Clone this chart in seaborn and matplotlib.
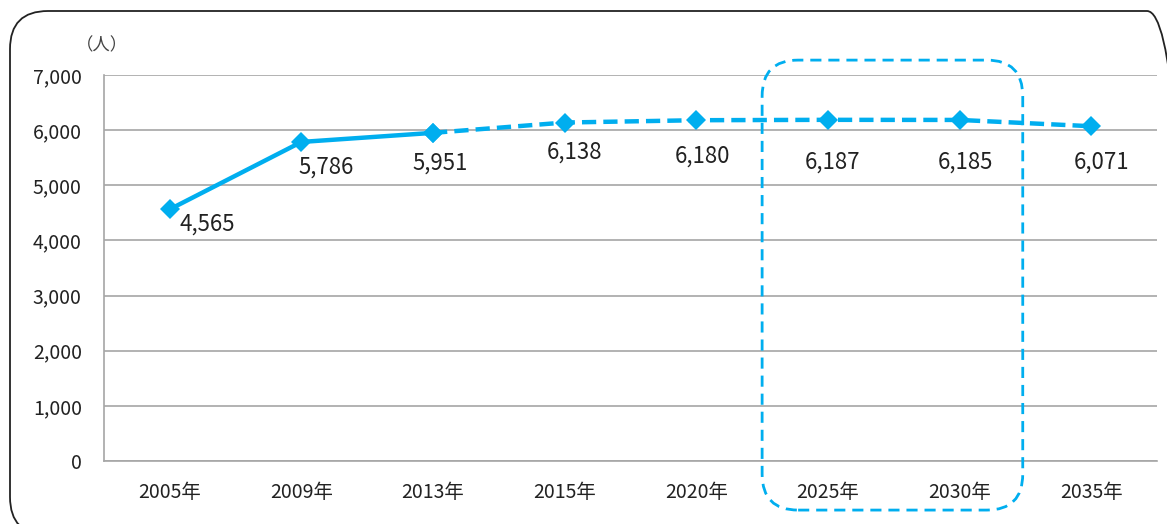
import matplotlib
matplotlib.use("Agg")
import matplotlib.pyplot as plt
import seaborn as sns
import pandas as pd
from matplotlib.patches import FancyBboxPatch
from matplotlib.transforms import IdentityTransform

# ---- data ----
years = ["2005年", "2009年", "2013年", "2015年", "2020年", "2025年", "2030年", "2035年"]
population = [4565, 5786, 5951, 6138, 6180, 6187, 6185, 6071]
actual_count = 3            # first 3 points are actual (solid line), rest projected (dashed)
highlight_years = ["2025年", "2030年"]
y_ticks = [0, 1000, 2000, 3000, 4000, 5000, 6000, 7000]
unit_label = "（人）"

# label offsets in pixels (layout only)
label_offsets = [(37, -15), (25, -25), (7, -30), (10, -30), (6, -36), (5, -42), (6, -42), (10, -36)]

sns.set_style("white")
plt.rcParams["font.family"] = ["Noto Sans CJK JP", "DejaVu Sans"]

BLUE = "#00AEEF"
GRID = "#A6A6A6"
TXT = "#222222"

df = pd.DataFrame({"idx": range(len(years)), "year": years, "pop": population})

fig = plt.figure(figsize=(11.67, 5.24), dpi=100)
ax = fig.add_axes([104 / 1167, 1 - 461 / 524, (1157 - 104) / 1167, (461 - 75) / 524])

sns.lineplot(data=df.iloc[:actual_count], x="idx", y="pop", ax=ax, color=BLUE,
             linewidth=3.2, marker="D", markersize=10, markeredgewidth=0, zorder=4)
sns.lineplot(data=df.iloc[actual_count - 1:], x="idx", y="pop", ax=ax, color=BLUE,
             linewidth=3.2, marker="D", markersize=10, markeredgewidth=0, zorder=4,
             dashes=False, linestyle=(0, (3.2, 1.6)))

ax.set_xlim(-0.5, len(years) - 0.5)
ax.set_ylim(0, 7000)
ax.set_yticks(y_ticks)
ax.set_yticklabels([f"{v:,}" for v in y_ticks], fontsize=14, color=TXT)
ax.set_xticks(range(len(years)))
ax.set_xticklabels(years, fontsize=14, color=TXT)
ax.set_xticks([i - 0.5 for i in range(len(years) + 1)], minor=True)
ax.tick_params(axis="x", which="major", length=0, pad=15)
ax.tick_params(axis="x", which="minor", length=6, color=GRID, width=1.2, direction="out")
ax.tick_params(axis="y", length=6, color=GRID, width=1.2, direction="out", pad=10)
ax.set_xlabel("")
ax.set_ylabel("")
ax.yaxis.grid(True, color=GRID, linewidth=1.2)
ax.set_axisbelow(True)
for s in ["top", "right"]:
    ax.spines[s].set_visible(False)
for s in ["left", "bottom"]:
    ax.spines[s].set_color(GRID)
    ax.spines[s].set_linewidth(1.2)

for i, (v, off) in enumerate(zip(population, label_offsets)):
    ax.annotate(f"{v:,}", xy=(i, v), xytext=off, textcoords="offset pixels",
                ha="center", va="center", fontsize=16, color=TXT)

fig.text(102 / 1167, 1 - 45 / 524, unit_label, fontsize=12.5, color="#444444",
         ha="center", va="center")

fig.canvas.draw()
# highlight box around projected years
i0 = years.index(highlight_years[0])
i1 = years.index(highlight_years[-1])
p0 = ax.transData.transform((i0 - 0.5, -890))
p1 = ax.transData.transform((i1 + 0.48, 7270))
hl = FancyBboxPatch((p0[0], p0[1]), p1[0] - p0[0], p1[1] - p0[1],
                    boxstyle="round,pad=0,rounding_size=36", transform=IdentityTransform(),
                    fill=False, edgecolor=BLUE, linewidth=2.0, linestyle=(0, (4, 2.5)),
                    zorder=5)
fig.patches.append(hl)

# outer rounded frame
frame = FancyBboxPatch((10, -11), 1175, 524, boxstyle="round,pad=0,rounding_size=38",
                       transform=IdentityTransform(), fill=False, edgecolor="#222222",
                       linewidth=1.3)
fig.patches.append(frame)

fig.savefig("out.png", dpi=100)
